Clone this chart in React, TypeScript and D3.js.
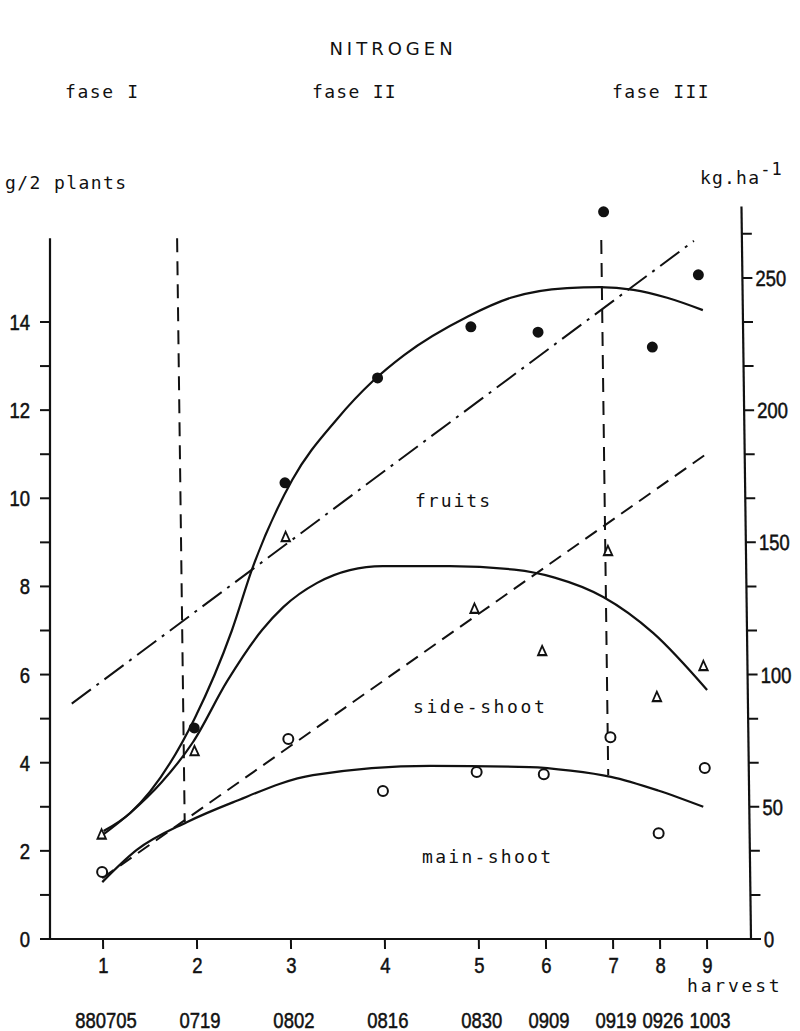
import React, { useEffect, useRef } from "react";
import * as d3 from "d3";

// ---- data ----
// harvest day counted from 880705
const harvestDays = [0, 14, 28, 42, 56, 66, 76, 83, 90];
const harvestNumbers = ["1", "2", "3", "4", "5", "6", "7", "8", "9"];
const harvestDates = ["880705", "0719", "0802", "0816", "0830", "0909", "0919", "0926", "1003"];

// observed N (g / 2 plants), null = not shown
const fruitsObs = [null, 4.79, 10.35, 12.73, 13.89, 13.77, 16.5, 13.43, 15.07];
const sideShootObs = [2.35, 4.24, 9.1, null, 7.47, 6.51, 8.78, 5.47, 6.17];
const mainShootObs = [1.52, null, 4.54, 3.36, 3.79, 3.74, 4.58, 2.4, 3.88];

// fitted curves (g / 2 plants)
const fruitsFitDays = [0.3, 4.3, 14.1, 19.8, 23, 29.1, 35.9, 41.3, 46, 55.5, 62, 70.4, 75.3, 80.3, 85.3, 90.6];
const fruitsFitValues = [2.45, 2.86, 5.01, 7.0, 8.42, 10.42, 11.8, 12.66, 13.25, 14.12, 14.55, 14.77, 14.79, 14.73, 14.55, 14.27];
const sideFitDays = [0.05, 4.3, 9, 13.8, 19, 24.3, 27.5, 32.6, 37.5, 42.4, 52.4, 62, 68, 75.2, 82.6, 90.5];
const sideFitValues = [2.35, 2.86, 3.55, 4.47, 5.85, 7.01, 7.53, 8.08, 8.37, 8.46, 8.46, 8.38, 8.2, 7.76, 6.94, 5.65];
const mainFitDays = [0, 5.2, 12.7, 19.6, 31.6, 49.1, 63.9, 70, 76, 83, 89.7];
const mainFitValues = [1.29, 2.02, 2.65, 3.1, 3.72, 3.93, 3.9, 3.82, 3.68, 3.37, 3.0];

// straight lines (kg.ha-1)
const dashedLineDays = [0, 90.6];
const dashedLineKg = [23, 183];
const dashDotLineDays = [-4.2, 89.4];
const dashDotLineKg = [89, 264];

// phase boundaries
const phaseDays = [12.4, 75.6];
const phaseTop = [15.9, 15.86];
const phaseBottom = [2.65, 3.72];

const leftTicks = d3.range(0, 15);
const rightTickKg = d3.range(0, 17).map((i) => (i * 50) / 3);

const numFont = "'Liberation Sans', Arial, sans-serif";
const monoFont = "'DejaVu Sans Mono', 'Liberation Mono', monospace";

export default function App() {
  const ref = useRef<SVGSVGElement>(null);

  useEffect(() => {
    const svg = d3.select(ref.current);
    svg.selectAll("*").remove();
    const ink = "#111";

    const x = d3.scaleLinear().domain([0, 90]).range([103, 707]);
    const yL = d3.scaleLinear().domain([0, 14]).range([939, 322]);
    const yR = d3.scaleLinear().domain([0, 250]).range([939, yL(15)]);
    const xLeft = 50;
    const xRight = 751;

    // condensed number label
    const num = (parent: any, t: string, px: number, py: number, anchor: string) =>
      parent.append("text").attr("transform", `translate(${px},${py}) scale(0.84,1)`)
        .attr("text-anchor", anchor).attr("font-family", numFont).attr("font-size", 22)
        .attr("fill", ink).attr("stroke", ink).attr("stroke-width", 0.5).text(t);
    const mono = (t: string, px: number, py: number, ls: number) =>
      svg.append("text").attr("x", px).attr("y", py).attr("font-family", monoFont).attr("font-size", 18)
        .attr("letter-spacing", ls).attr("fill", ink).text(t);

    // header texts
    svg.append("text").attr("x", 393).attr("y", 55).attr("text-anchor", "middle")
      .attr("font-family", "'DejaVu Sans', sans-serif").attr("font-size", 18).attr("letter-spacing", 4)
      .attr("fill", ink).text("NITROGEN");
    mono("fase I", 65, 98, 1.6);
    mono("fase II", 312, 98, 1.3);
    mono("fase III", 612, 98, 1.4);
    mono("g/2 plants", 5, 189, 1.4);
    const kg = svg.append("text").attr("x", 700).attr("y", 184).attr("font-family", monoFont)
      .attr("font-size", 18).attr("letter-spacing", 1.2).attr("fill", ink);
    kg.append("tspan").text("kg.ha");
    kg.append("tspan").attr("dy", -9).attr("font-size", 17).text("-1");

    // left axis (not skewed)
    const gL = svg.append("g");
    gL.append("line").attr("x1", xLeft).attr("x2", xLeft).attr("y1", yL(0)).attr("y2", yL(15.9))
      .attr("stroke", ink).attr("stroke-width", 2.2);
    gL.selectAll("line.t").data(leftTicks).join("line").attr("class", "t")
      .attr("x1", xLeft - 10).attr("x2", xLeft).attr("y1", (d) => yL(d)).attr("y2", (d) => yL(d))
      .attr("stroke", ink).attr("stroke-width", 2);
    leftTicks.filter((d) => d % 2 === 0).forEach((d) => num(gL, String(d), xLeft - 20, yL(d) + 8, "end"));

    // skewed plot group (the scan leans slightly)
    const k = 0.013;
    const deg = (Math.atan(k) * 180) / Math.PI;
    const g = svg.append("g").attr("transform", `translate(${-k * 939},0) skewX(${deg})`);

    // x axis
    g.append("line").attr("x1", xLeft).attr("x2", xRight).attr("y1", 939).attr("y2", 939)
      .attr("stroke", ink).attr("stroke-width", 2.2);
    g.selectAll("line.xt").data(harvestDays).join("line").attr("class", "xt")
      .attr("x1", (d) => x(d)).attr("x2", (d) => x(d)).attr("y1", 939).attr("y2", 949)
      .attr("stroke", ink).attr("stroke-width", 2);
    harvestDays.forEach((d, i) => {
      num(svg, harvestNumbers[i], x(d) + 0.5, 973, "middle");
      num(svg, harvestDates[i], x(d) + 3, 1028, "middle");
    });
    mono("harvest", 687, 992, 2.8);

    // right axis
    g.append("line").attr("x1", xRight).attr("x2", xRight).attr("y1", yR(0)).attr("y2", yR(277))
      .attr("stroke", ink).attr("stroke-width", 2.2);
    g.selectAll("line.rt").data(rightTickKg).join("line").attr("class", "rt")
      .attr("x1", xRight).attr("x2", xRight + 10).attr("y1", (d) => yR(d)).attr("y2", (d) => yR(d))
      .attr("stroke", ink).attr("stroke-width", 2);
    rightTickKg.filter((d) => Math.abs(d / 50 - Math.round(d / 50)) < 1e-6).forEach((d) =>
      num(g, String(Math.round(d)), xRight + 13, yR(d) + 8, "start"));

    // phase boundaries
    phaseDays.forEach((d, i) => {
      g.append("line").attr("x1", x(d)).attr("x2", x(d)).attr("y1", yL(phaseTop[i])).attr("y2", yL(phaseBottom[i]))
        .attr("stroke", ink).attr("stroke-width", 2).attr("stroke-dasharray", "14 9");
    });

    // straight lines
    const straight = (days: number[], vals: number[], dash: string) => {
      const pts = days.map((d, i) => [x(d), yR(vals[i])] as [number, number]);
      g.append("path").attr("d", d3.line()(pts) as string).attr("fill", "none")
        .attr("stroke", ink).attr("stroke-width", 2).attr("stroke-dasharray", dash);
    };
    straight(dashedLineDays, dashedLineKg, "14 8");
    straight(dashDotLineDays, dashDotLineKg, "24 7 3 7");

    // fitted curves
    const curve = (days: number[], vals: number[]) => {
      const pts = days.map((d, i) => [x(d), yL(vals[i])] as [number, number]);
      g.append("path").attr("d", d3.line().curve(d3.curveMonotoneX)(pts) as string)
        .attr("fill", "none").attr("stroke", ink).attr("stroke-width", 2.2);
    };
    curve(fruitsFitDays, fruitsFitValues);
    curve(sideFitDays, sideFitValues);
    curve(mainFitDays, mainFitValues);

    // observations
    const idx = harvestDays.map((_, i) => i);
    g.selectAll("circle.f").data(idx.filter((i) => fruitsObs[i] != null)).join("circle").attr("class", "f")
      .attr("cx", (i) => x(harvestDays[i])).attr("cy", (i) => yL(fruitsObs[i] as number)).attr("r", 5.5)
      .attr("fill", ink);
    g.selectAll("circle.m").data(idx.filter((i) => mainShootObs[i] != null)).join("circle").attr("class", "m")
      .attr("cx", (i) => x(harvestDays[i])).attr("cy", (i) => yL(mainShootObs[i] as number)).attr("r", 5)
      .attr("fill", "white").attr("stroke", ink).attr("stroke-width", 2);
    const tri = d3.symbol().type(d3.symbolTriangle).size(42);
    g.selectAll("path.s").data(idx.filter((i) => sideShootObs[i] != null)).join("path").attr("class", "s")
      .attr("d", tri() as string)
      .attr("transform", (i) => `translate(${x(harvestDays[i])},${yL(sideShootObs[i] as number)}) scale(0.85,1.1)`)
      .attr("fill", "white").attr("stroke", ink).attr("stroke-width", 2);

    // series labels
    mono("fruits", 415, 507, 2);
    mono("side-shoot", 413, 713, 2.6);
    mono("main-shoot", 422, 863, 2.3);
  }, []);

  return (
    <svg ref={ref} width={800} height={1031}
      style={{ position: "absolute", left: 0, top: 0, background: "#fff" }} />
  );
}
